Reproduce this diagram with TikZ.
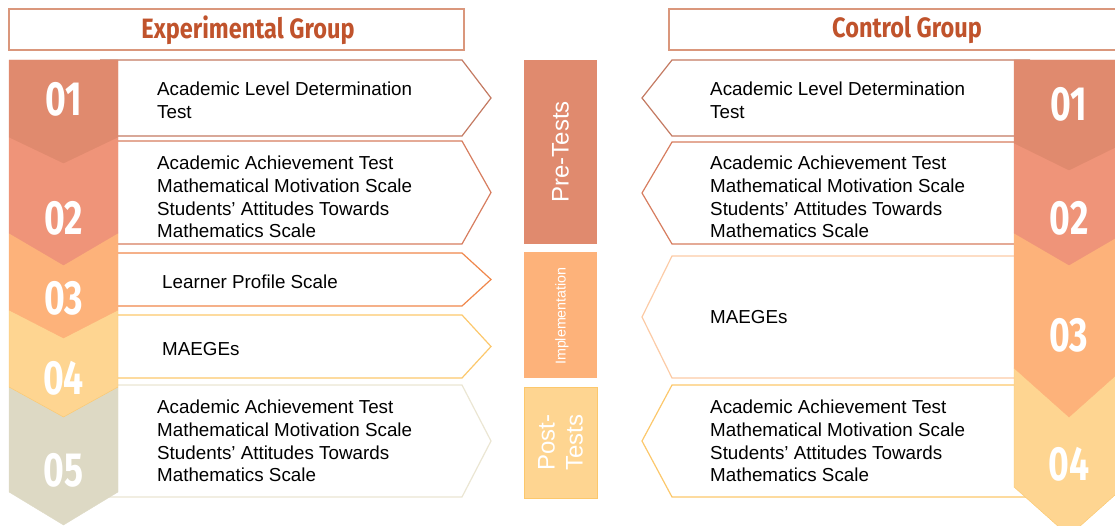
\documentclass[tikz,border=0pt]{standalone}
\usepackage{fontspec}
\setmainfont{Liberation Sans}
\newfontfamily\condfont[FakeStretch=0.84]{Fira Sans}
\newfontfamily\numfont[FakeStretch=0.74]{Fira Sans}
\usepackage{xcolor}
\usepackage{tikz}
\usetikzlibrary{positioning,calc}

\definecolor{stepA}{HTML}{E08A6E}
\definecolor{stepB}{HTML}{EF9479}
\definecolor{stepC}{HTML}{FDB27A}
\definecolor{stepD}{HTML}{FED591}
\definecolor{stepE}{HTML}{DDD9C4}
\definecolor{lineA}{HTML}{C47A62}
\definecolor{lineB}{HTML}{D77D5F}
\definecolor{lineC}{HTML}{F0874B}
\definecolor{lineD}{HTML}{FCC86C}
\definecolor{lineE}{HTML}{EBE6D3}
\definecolor{lineF}{HTML}{FCCBA6}
\definecolor{titlered}{HTML}{C0532C}
\definecolor{titleline}{HTML}{DA977C}

\begin{document}
\begin{tikzpicture}[x=1pt, y=-1pt,
    boxtext/.style={anchor=west, align=left, inner sep=0pt, font=\fontsize{18.8}{22.6}\selectfont},
    stepnum/.style={text=white, font=\numfont\bfseries\fontsize{48}{48}\selectfont},
    grouptitle/.style={text=titlered, font=\condfont\bfseries\fontsize{28}{28}\selectfont},
    phasebox/.style={minimum width=73pt, inner sep=0pt},
    phasetext/.style={rotate=90, text=white, align=left}]
    \useasboundingbox (0,0) rectangle (1115,526);

    % Group headers
    \draw[titleline, line width=1.3pt] (9,9) rectangle (464,50);
    \draw[titleline, line width=1.3pt] (669,9) rectangle (1124,50);
    \node[grouptitle] (expgroup) at (248,30) {Experimental Group};
    \node[grouptitle] (ctrlgroup) at (907,30) {Control Group};

    % Experimental group: arrow boxes
    \foreach \ytop/\ybot/\col in {60/136/lineA, 141/244/lineB, 253/306/lineC, 315/378/lineD, 385/497/lineE} {
        \draw[\col, line width=1.2pt, fill=white] (100,\ytop) -- (462,\ytop) -- (491,{(\ytop+\ybot)/2}) -- (462,\ybot) -- (100,\ybot);
    }

    % Experimental group: step ribbon (bottom up, so every chevron overlaps the next)
    \foreach \ytop/\yside/\ytip/\col/\edge in {387/492/525/stepE/stepE, 310/387/417/stepD/lineD, 233/310/338/stepC/stepC, 137/233/265/stepB/stepB, 60/137/163/stepA/stepA} {
        \fill[\col, draw=\edge] (9,\ytop) -- (118,\ytop) -- (118,\yside) -- (63.5,\ytip) -- (9,\yside) -- cycle;
    }
    \foreach \n/\y in {1/99, 2/218, 3/298, 4/378, 5/470} {
        \node[stepnum] (exp\n) at (63.5,\y) {0\n};
    }

    \node[boxtext] (exptext1) at (157,100) {Academic Level Determination\\Test};
    \node[boxtext] (exptext2) at (157,197) {Academic Achievement Test\\Mathematical Motivation Scale\\Students’ Attitudes Towards\\Mathematics Scale};
    \node[boxtext] (exptext3) at (162,282) {Learner Profile Scale};
    \node[boxtext] (exptext4) at (162,349) {MAEGEs};
    \node[boxtext] (exptext5) at (157,441) {Academic Achievement Test\\Mathematical Motivation Scale\\Students’ Attitudes Towards\\Mathematics Scale};

    % Phases
    \node[phasebox, fill=stepA, minimum height=184pt] (pretests) at (560.5,152) {};
    \node[phasetext, font=\fontsize{24}{28}\selectfont] (pretext) at (pretests) {Pre-Tests};
    \node[phasebox, fill=stepC, minimum height=126pt] (implement) at (560.5,315) {};
    \node[phasetext, font=\fontsize{14.3}{16}\selectfont] (impltext) at (562,316) {Implementation};
    \node[phasebox, fill=stepD, draw=lineD, minimum height=111pt] (posttests) at (560.5,442.5) {};
    \node[phasetext, font=\fontsize{24}{28}\selectfont] (posttext) at (posttests) {Post-\\Tests};

    % Control group: arrow boxes
    \foreach \ytop/\ybot/\col in {60/136/lineA, 142/244/lineB, 256/378/lineF, 385/497/lineD} {
        \draw[\col, line width=1.2pt, fill=white] (1030,\ytop) -- (672,\ytop) -- (642,{(\ytop+\ybot)/2}) -- (672,\ybot) -- (1030,\ybot);
    }

    % Control group: step ribbon
    \foreach \ytop/\yside/\ytip/\col/\edge in {368/487/536/stepD/lineD, 233/368/417/stepC/stepC, 143/233/265/stepB/stepB, 60/143/170/stepA/stepA} {
        \fill[\col, draw=\edge] (1014,\ytop) -- (1124,\ytop) -- (1124,\yside) -- (1069,\ytip) -- (1014,\yside) -- cycle;
    }
    \foreach \n/\y in {1/104, 2/218, 3/335, 4/464} {
        \node[stepnum] (ctrl\n) at (1069,\y) {0\n};
    }

    \node[boxtext] (ctrltext1) at (710,100) {Academic Level Determination\\Test};
    \node[boxtext] (ctrltext2) at (710,197) {Academic Achievement Test\\Mathematical Motivation Scale\\Students’ Attitudes Towards\\Mathematics Scale};
    \node[boxtext] (ctrltext3) at (710,317) {MAEGEs};
    \node[boxtext] (ctrltext4) at (710,441) {Academic Achievement Test\\Mathematical Motivation Scale\\Students’ Attitudes Towards\\Mathematics Scale};
\end{tikzpicture}
\end{document}
